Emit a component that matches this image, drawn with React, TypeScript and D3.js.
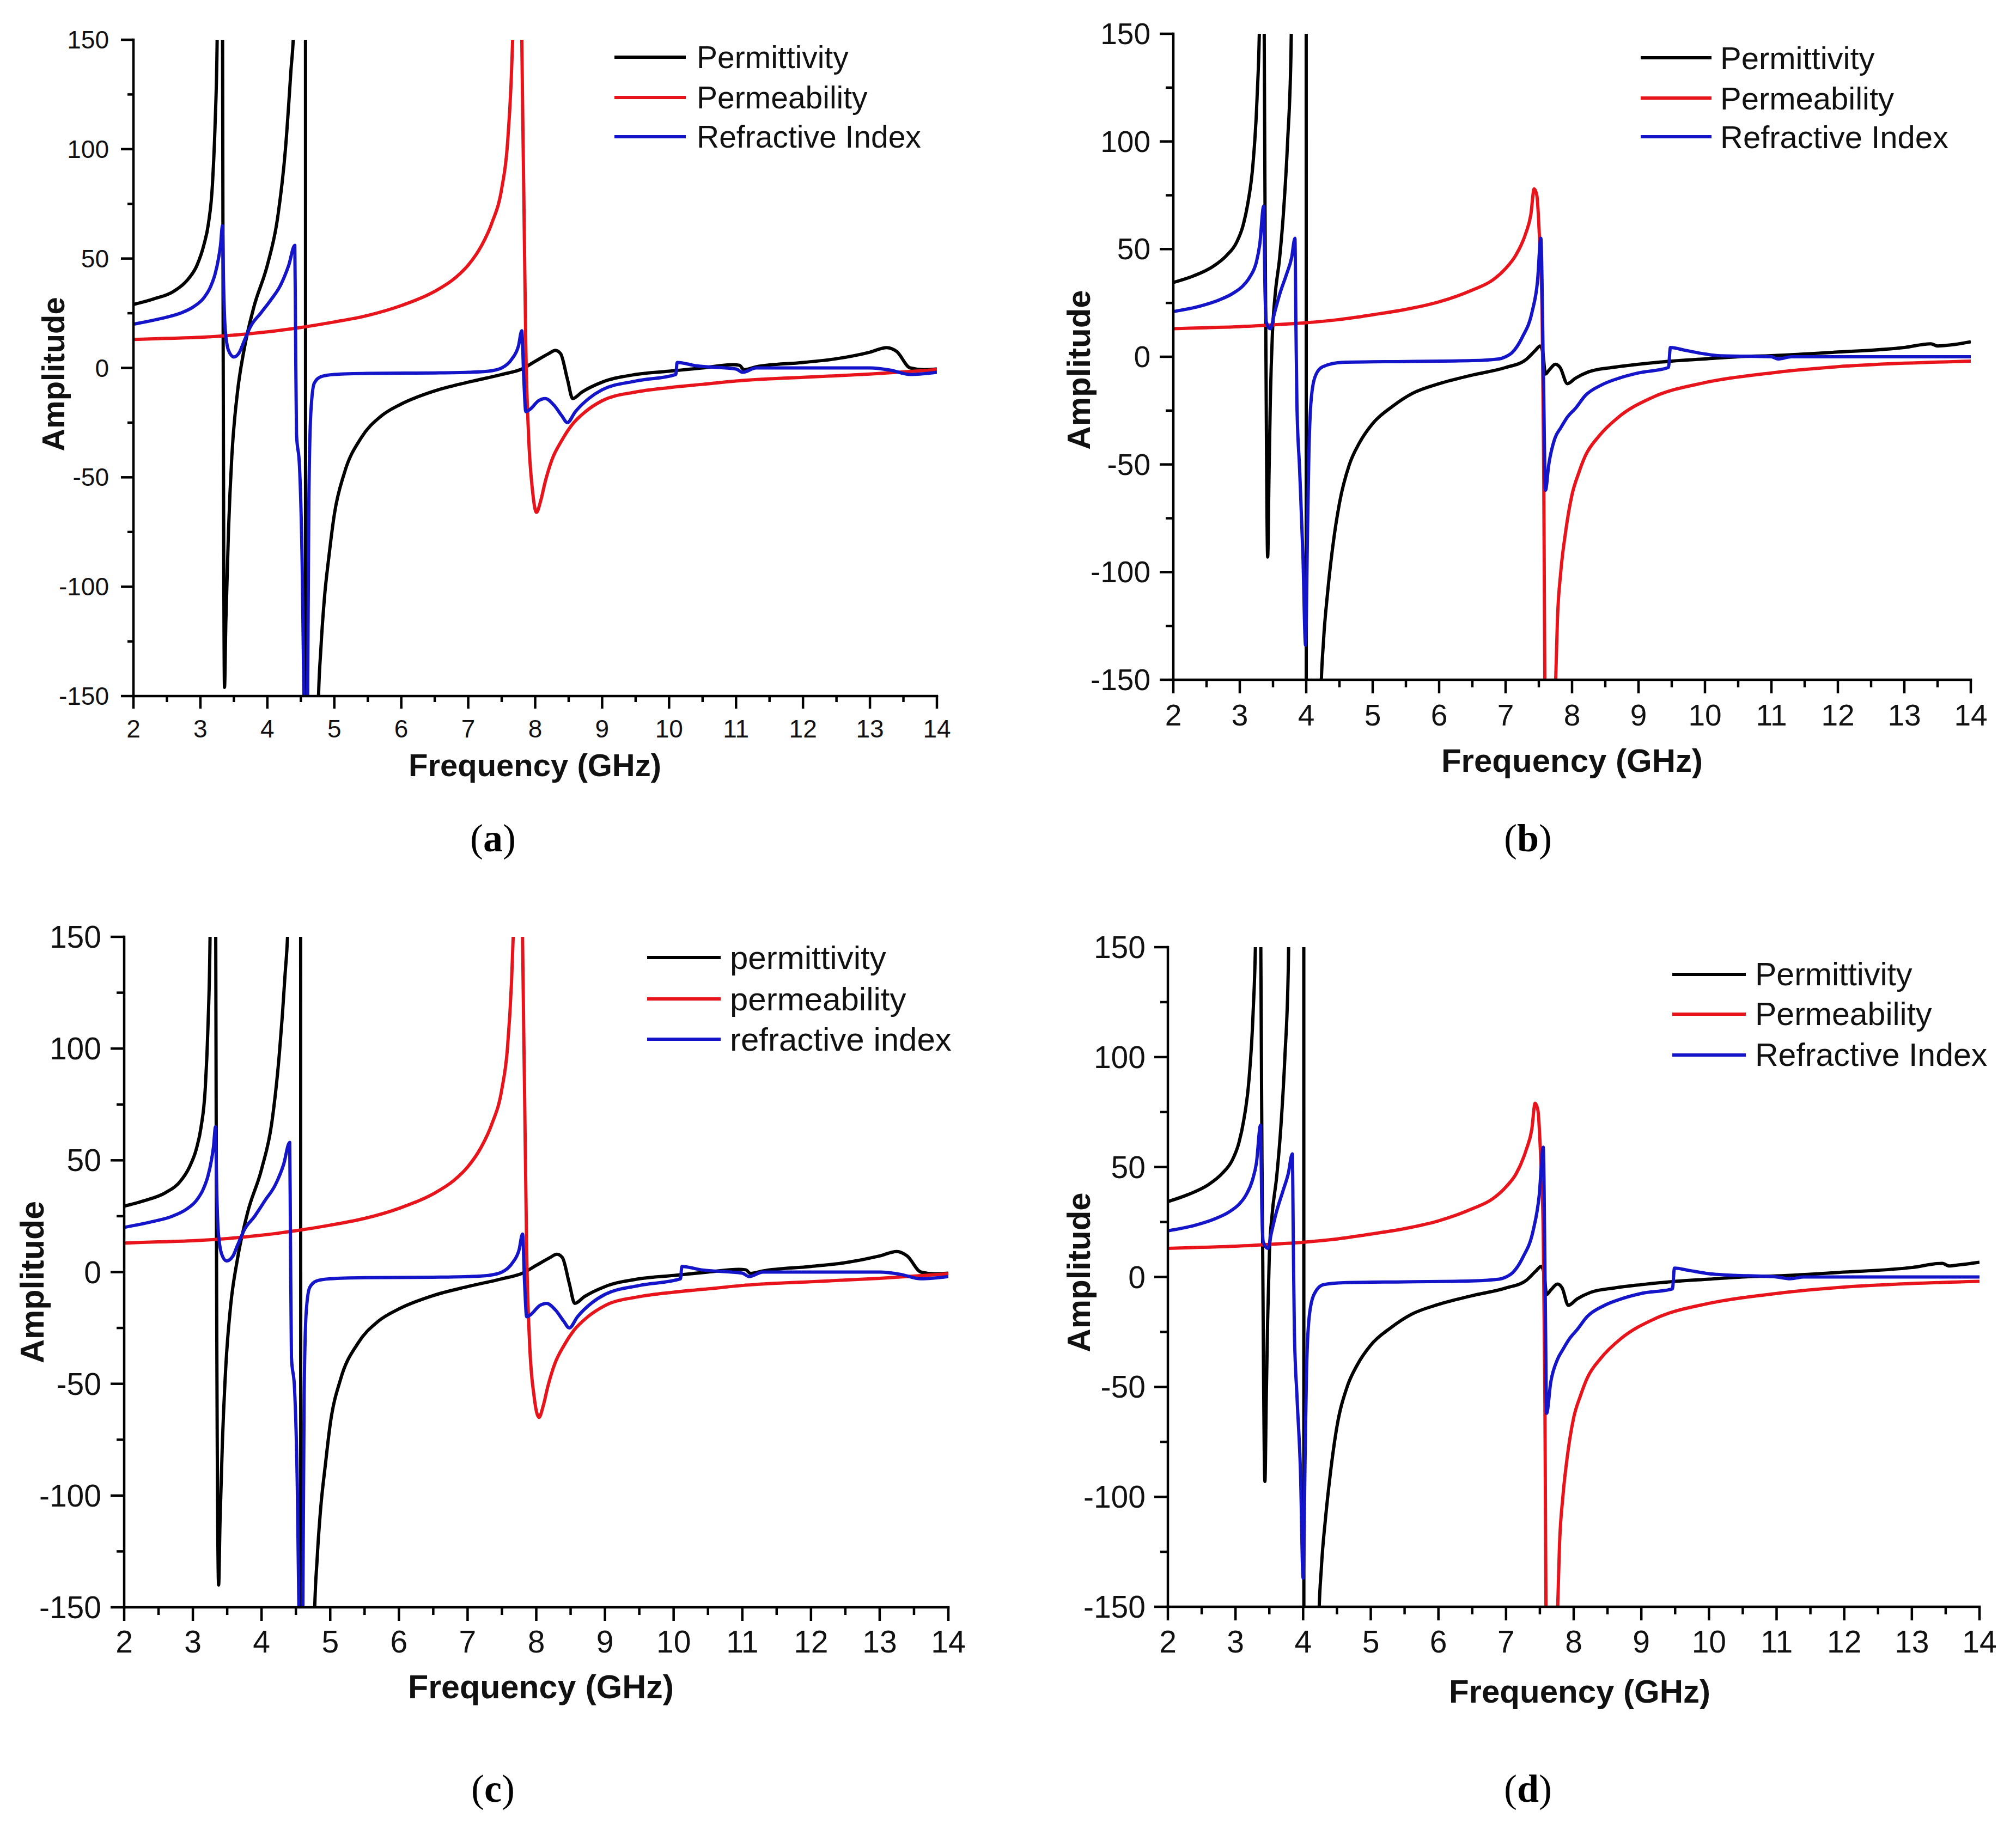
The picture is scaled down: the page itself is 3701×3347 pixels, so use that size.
import React from 'react';
import * as d3 from 'd3';

type Pt = [number, number];

// axis ticks
const xTicks = [2, 3, 4, 5, 6, 7, 8, 9, 10, 11, 12, 13, 14];
const xMinorTicks = [2.5, 3.5, 4.5, 5.5, 6.5, 7.5, 8.5, 9.5, 10.5, 11.5, 12.5, 13.5];
const yTicks = [-150, -100, -50, 0, 50, 100, 150];
const yMinorTicks = [-125, -75, -25, 25, 75, 125];

const seriesNames = ['Permittivity', 'Permeability', 'Refractive Index'];
const seriesNamesLower = ['permittivity', 'permeability', 'refractive index'];
const panelLetters = ['a', 'b', 'c', 'd'];
const seriesColors = ['#000000', '#e8141b', '#1414c8'];

// ---- panel (a) ----
const permittivityA: Pt[] = [
  [2, 29], [2.3, 31.5], [2.6, 35], [2.8, 40], [2.95, 47], [3.05, 56], [3.12, 66], [3.18, 84], [3.22, 112],
  [3.25, 150], [3.28, 300], [3.3, 700], [3.325, 250], [3.34, 10], [3.36, -146], [3.38, -116], [3.42, -74],
  [3.47, -40], [3.55, -12], [3.65, 8], [3.8, 28], [4.0, 47], [4.15, 68], [4.27, 100], [4.35, 135], [4.4, 160],
  [4.5, 420], [4.565, 1500], [4.575, -1500], [4.76, -155], [4.8, -128], [4.85, -106], [4.92, -86], [5.0, -67],
  [5.15, -48], [5.4, -32], [5.7, -22], [6.0, -16.5], [6.5, -10.5], [7.0, -6.5], [7.5, -3], [7.8, -0.5], [8.0, 3],
  [8.2, 6.5], [8.3, 8], [8.38, 6.5], [8.48, -5], [8.56, -14], [8.7, -11], [9.0, -6.5], [9.5, -3], [10, -1.5],
  [10.5, 0], [10.95, 1.5], [11.05, 1.2], [11.12, -0.8], [11.3, 0.5], [12, 2.5], [12.5, 4.2], [13.0, 7.2],
  [13.25, 9.3], [13.4, 7.5], [13.6, 0], [13.8, -0.8], [14, -0.5],
];
const permeabilityA: Pt[] = [
  [2, 13], [2.5, 13.5], [3, 14], [3.5, 15], [4, 16.5], [4.5, 18.5], [5, 21], [5.5, 24], [6, 28.5], [6.5, 35],
  [6.8, 41], [7.0, 47], [7.2, 56], [7.35, 66], [7.5, 82], [7.58, 100], [7.64, 130], [7.67, 155], [7.73, 230],
  [7.78, 220], [7.8, 150], [7.83, 80], [7.86, 10], [7.9, -30], [7.96, -56], [8.02, -66], [8.08, -61], [8.15, -52],
  [8.25, -42], [8.4, -33], [8.55, -26], [8.75, -20], [9.0, -15], [9.5, -11], [10, -9], [10.5, -7.5], [11, -6],
  [11.5, -5], [12, -4.3], [13, -2.8], [14, -0.8],
];
const refractiveA: Pt[] = [
  [2, 20], [2.4, 22.5], [2.7, 25], [2.9, 28], [3.05, 32], [3.15, 37], [3.22, 43], [3.27, 50], [3.3, 56],
  [3.33, 65], [3.345, 40], [3.37, 18], [3.42, 8], [3.5, 5], [3.58, 7], [3.65, 12], [3.75, 19], [3.9, 25],
  [4.05, 31], [4.2, 38], [4.32, 47], [4.41, 56], [4.42, 20], [4.435, -30], [4.48, -45], [4.52, -90], [4.55, -160],
  [4.575, -260], [4.6, -160], [4.62, -60], [4.65, -20], [4.7, -7], [4.8, -4], [5.0, -3], [5.5, -2.5], [6.5, -2.3],
  [7.0, -2], [7.3, -1.5], [7.5, 0], [7.65, 4], [7.75, 10], [7.8, 17], [7.83, -5], [7.86, -20], [7.92, -19],
  [8.05, -15], [8.15, -14], [8.28, -17], [8.4, -22], [8.48, -25], [8.6, -20], [8.8, -14], [9.0, -10], [9.5, -6],
  [10.1, -3], [10.12, 2.5], [10.4, 1], [11.0, -0.5], [11.1, -2], [11.3, 0], [12, 0], [13, 0], [13.3, -1],
  [13.6, -3], [14, -2],
];

// ---- panel (b) ----
const permittivityB: Pt[] = [
  [2, 34.5], [2.3, 37.5], [2.6, 42], [2.8, 47], [2.95, 53], [3.05, 61], [3.12, 71], [3.2, 90], [3.26, 120],
  [3.3, 160], [3.335, 600], [3.36, 200], [3.39, 20], [3.42, -93], [3.44, -55], [3.46, -20], [3.49, 10],
  [3.53, 28], [3.6, 46], [3.66, 68], [3.72, 100], [3.77, 140], [3.8, 200], [3.995, 1500], [4.005, -1500],
  [4.22, -158], [4.26, -132], [4.32, -110], [4.4, -88], [4.5, -68], [4.65, -50], [4.8, -40], [5.0, -31],
  [5.3, -23], [5.6, -17], [6.0, -12.5], [6.5, -8.5], [7.0, -5], [7.3, -1.5], [7.45, 3], [7.52, 5], [7.56, 2],
  [7.6, -8], [7.66, -6], [7.75, -3.5], [7.82, -5], [7.93, -12.5], [8.05, -10], [8.25, -7], [8.6, -5], [9.0, -3.5],
  [9.5, -2], [10, -1], [10.5, 0], [11, 0.5], [12, 2.2], [13, 4.3], [13.4, 6], [13.5, 5], [13.7, 5.5], [14, 7],
];
const permeabilityB: Pt[] = [
  [2, 13], [2.5, 13.5], [3, 14], [3.5, 14.8], [4, 15.8], [4.5, 17.3], [5, 19.5], [5.5, 22], [6, 25.5], [6.5, 31],
  [6.8, 35.5], [7.0, 41], [7.15, 47], [7.3, 57], [7.38, 66], [7.43, 78], [7.47, 75], [7.51, 55], [7.55, 20],
  [7.57, -40], [7.59, -150], [7.6, -400], [7.745, -160], [7.78, -122], [7.83, -100], [7.9, -82], [8.0, -64],
  [8.1, -54], [8.2, -46], [8.4, -37], [8.7, -28], [9.2, -19], [10, -12], [11, -7.5], [12, -4.6], [13, -3], [14, -2],
];
const refractiveB: Pt[] = [
  [2, 21], [2.4, 23.5], [2.7, 26.5], [2.9, 29.5], [3.05, 33], [3.15, 37], [3.25, 44], [3.3, 52], [3.36, 70],
  [3.38, 30], [3.4, 16], [3.46, 13], [3.52, 20], [3.6, 29], [3.7, 38], [3.78, 46], [3.83, 55], [3.845, 15],
  [3.86, -22], [3.9, -52], [3.95, -92], [3.99, -134], [4.02, -80], [4.04, -45], [4.08, -18], [4.15, -8],
  [4.25, -4.6], [4.55, -2.6], [5.5, -2.2], [6.5, -1.8], [6.9, -1], [7.0, 0], [7.1, 2], [7.25, 9], [7.4, 21],
  [7.48, 35], [7.53, 55], [7.57, -10], [7.6, -62], [7.65, -50], [7.74, -38], [7.83, -33], [7.93, -28],
  [8.05, -24], [8.2, -18], [8.45, -13], [8.7, -10], [9.0, -7.5], [9.45, -5], [9.48, 4.3], [9.7, 3], [10.0, 1.3],
  [10.2, 0.5], [11.0, 0], [11.1, -1], [11.3, 0], [12, 0], [14, 0],
];

// ---- panel (c) ----
const permittivityC: Pt[] = [
  [2, 29.5], [2.3, 32], [2.6, 35.5], [2.8, 40], [2.95, 47], [3.05, 55], [3.12, 65], [3.18, 82], [3.22, 110],
  [3.25, 150], [3.28, 300], [3.3, 700], [3.325, 250], [3.345, 0], [3.375, -140], [3.395, -112], [3.43, -76],
  [3.48, -42], [3.55, -15], [3.65, 6], [3.8, 27], [4.0, 46], [4.15, 67], [4.26, 98], [4.34, 132], [4.39, 160],
  [4.49, 420], [4.565, 1500], [4.575, -1500], [4.77, -155], [4.81, -128], [4.86, -106], [4.93, -86], [5.0, -68],
  [5.15, -48], [5.4, -32], [5.7, -22], [6.0, -16.5], [6.5, -10.5], [7.0, -6.5], [7.5, -3], [7.8, -0.5], [8.0, 3],
  [8.2, 6.5], [8.3, 8], [8.38, 6.5], [8.48, -5], [8.56, -14], [8.7, -11], [9.0, -6.5], [9.5, -3], [10, -1.5],
  [10.5, 0], [10.95, 1.2], [11.05, 1.0], [11.12, -0.6], [11.3, 0.5], [12, 2.5], [12.5, 4.2], [13.0, 7.2],
  [13.25, 9.2], [13.4, 7.2], [13.6, 0], [13.8, -0.8], [14, -0.5],
];
const permeabilityC: Pt[] = [
  [2, 13], [2.5, 13.5], [3, 14], [3.5, 15], [4, 16.5], [4.5, 18.5], [5, 21], [5.5, 24], [6, 28.5], [6.5, 35],
  [6.8, 41], [7.0, 47], [7.2, 56], [7.35, 66], [7.5, 82], [7.58, 100], [7.64, 130], [7.67, 155], [7.73, 230],
  [7.78, 220], [7.8, 150], [7.83, 80], [7.86, 10], [7.9, -30], [7.97, -56], [8.04, -65], [8.1, -60], [8.17, -51],
  [8.27, -41], [8.4, -33], [8.55, -26], [8.75, -20], [9.0, -15], [9.5, -11], [10, -9], [10.5, -7.5], [11, -6],
  [11.5, -5], [12, -4.3], [13, -2.8], [14, -0.8],
];
const refractiveC: Pt[] = [
  [2, 20], [2.4, 22.5], [2.7, 25], [2.9, 28], [3.05, 32], [3.15, 37], [3.22, 43], [3.27, 50], [3.3, 56],
  [3.33, 65], [3.345, 40], [3.37, 18], [3.42, 8], [3.49, 5], [3.58, 7], [3.65, 12], [3.75, 19], [3.9, 25],
  [4.05, 32], [4.2, 39], [4.32, 48], [4.41, 58], [4.42, 20], [4.435, -38], [4.48, -52], [4.52, -95], [4.55, -165],
  [4.575, -260], [4.6, -160], [4.62, -55], [4.65, -18], [4.7, -7], [4.8, -4], [5.0, -3], [5.5, -2.5], [6.5, -2.3],
  [7.0, -2], [7.3, -1.5], [7.5, 0], [7.65, 4], [7.75, 10], [7.8, 17], [7.83, -5], [7.86, -20], [7.92, -19],
  [8.05, -15], [8.15, -14], [8.28, -17], [8.4, -22], [8.48, -25], [8.6, -20], [8.8, -14], [9.0, -10], [9.5, -6],
  [10.1, -3], [10.12, 2.5], [10.4, 1], [11.0, -0.5], [11.1, -2], [11.3, 0], [12, 0], [13, 0], [13.3, -1],
  [13.6, -3], [14, -2],
];

// ---- panel (d) ----
const permittivityD: Pt[] = [
  [2, 34.3], [2.3, 37.5], [2.6, 42], [2.8, 47], [2.95, 53], [3.05, 61], [3.12, 71], [3.2, 90], [3.26, 120],
  [3.3, 160], [3.335, 600], [3.365, 200], [3.4, 20], [3.435, -93], [3.455, -55], [3.475, -20], [3.5, 10],
  [3.54, 28], [3.61, 46], [3.67, 68], [3.73, 100], [3.78, 140], [3.81, 200], [4.005, 1500], [4.015, -1500],
  [4.23, -158], [4.27, -132], [4.33, -110], [4.4, -90], [4.5, -68], [4.65, -50], [4.8, -40], [5.0, -31],
  [5.3, -23], [5.6, -17], [6.0, -12.5], [6.5, -8.5], [7.0, -5], [7.3, -1.5], [7.45, 3], [7.52, 4.8], [7.56, 2],
  [7.6, -8], [7.66, -6], [7.76, -3.2], [7.83, -5], [7.92, -12.9], [8.05, -10], [8.25, -7], [8.6, -5], [9.0, -3.5],
  [9.5, -2], [10, -1], [10.5, 0], [11, 0.5], [12, 2.2], [13, 4.3], [13.45, 6.2], [13.55, 5], [13.7, 5.5], [14, 6.7],
];
const permeabilityD: Pt[] = [
  [2, 13], [2.5, 13.5], [3, 14], [3.5, 14.8], [4, 15.8], [4.5, 17.3], [5, 19.5], [5.5, 22], [6, 25.5], [6.5, 31],
  [6.8, 35.5], [7.0, 41], [7.15, 47], [7.3, 58], [7.38, 67], [7.43, 79], [7.47, 76], [7.51, 56], [7.55, 20],
  [7.57, -40], [7.59, -150], [7.6, -400], [7.755, -160], [7.79, -122], [7.84, -100], [7.9, -83], [8.0, -64],
  [8.1, -54], [8.2, -46], [8.4, -37], [8.7, -28], [9.2, -19], [10, -12], [11, -7.5], [12, -4.6], [13, -3], [14, -2],
];
const refractiveD: Pt[] = [
  [2, 21], [2.4, 23.5], [2.7, 26.5], [2.9, 29.5], [3.05, 33], [3.15, 37], [3.25, 44], [3.31, 52], [3.37, 69],
  [3.39, 30], [3.41, 16], [3.48, 13], [3.53, 20], [3.6, 29], [3.7, 39], [3.78, 47], [3.84, 56], [3.855, 15],
  [3.87, -24], [3.91, -55], [3.96, -88], [4.0, -137], [4.03, -80], [4.05, -43], [4.09, -18], [4.16, -8],
  [4.3, -3.5], [4.6, -2.6], [5.5, -2.2], [6.5, -1.8], [6.9, -1], [7.0, 0], [7.1, 2], [7.25, 9], [7.4, 21],
  [7.49, 37], [7.55, 59], [7.58, -10], [7.6, -62], [7.66, -48], [7.76, -37.5], [7.84, -33], [7.94, -28],
  [8.05, -24], [8.2, -18], [8.45, -13], [8.7, -10], [9.0, -7.5], [9.46, -5.4], [9.49, 4], [9.7, 3], [10.0, 1.5],
  [10.2, 1], [11.0, 0], [11.2, -0.8], [11.4, 0], [12, 0], [14, 0],
];

const panelSeries: Pt[][][] = [
  [permittivityA, permeabilityA, refractiveA],
  [permittivityB, permeabilityB, refractiveB],
  [permittivityC, permeabilityC, refractiveC],
  [permittivityD, permeabilityD, refractiveD],
];
const panelNames = [seriesNames, seriesNames, seriesNamesLower, seriesNames];

interface Layout {
  l: number; r: number; t: number; b: number;
  tickFont: number; major: number; minor: number; yGap: number; xBase: number;
  titleFont: number; ampX: number; ampY: number; freqX: number; freqY: number;
  legX0: number; legX1: number; legTx: number; legRows: number[]; legFont: number;
  labelX: number; labelY: number;
}

const layouts: Layout[] = [
  { l: 245, r: 1720, t: 73, b: 1278, tickFont: 46, major: 23, minor: 11, yGap: 45, xBase: 76,
    titleFont: 58, ampX: 97, ampY: 687, freqX: 982, freqY: 1425,
    legX0: 1128, legX1: 1259, legTx: 1279, legRows: [105, 179, 251], legFont: 57, labelX: 905, labelY: 1563 },
  { l: 2154, r: 3618, t: 62, b: 1248, tickFont: 55, major: 25, minor: 14, yGap: 42, xBase: 84,
    titleFont: 60, ampX: 1980, ampY: 679, freqX: 2886, freqY: 1417,
    legX0: 3012, legX1: 3142, legTx: 3158, legRows: [106, 180, 251], legFont: 58, labelX: 2805, labelY: 1563 },
  { l: 228, r: 1741, t: 1720, b: 2951, tickFont: 57, major: 25, minor: 14, yGap: 42, xBase: 83,
    titleFont: 61, ampX: 59, ampY: 2354, freqX: 993, freqY: 3118,
    legX0: 1188, legX1: 1323, legTx: 1340, legRows: [1758, 1834, 1908], legFont: 60, labelX: 905, labelY: 3308 },
  { l: 2144, r: 3634, t: 1739, b: 2950, tickFont: 57, major: 25, minor: 14, yGap: 41, xBase: 84,
    titleFont: 60, ampX: 1980, ampY: 2336, freqX: 2900, freqY: 3126,
    legX0: 3070, legX1: 3205, legTx: 3222, legRows: [1789, 1862, 1937], legFont: 59, labelX: 2805, labelY: 3308 },
];

const sans = '"Liberation Sans", Arial, Helvetica, sans-serif';
const serif = '"Liberation Serif", "Times New Roman", serif';

const Panel: React.FC<{ idx: number }> = ({ idx }) => {
  const L = layouts[idx];
  const series = panelSeries[idx];
  const names = panelNames[idx];
  const x = d3.scaleLinear().domain([2, 14]).range([L.l, L.r]);
  const y = d3.scaleLinear().domain([-150, 150]).range([L.b, L.t]);
  const line = d3
    .line<Pt>()
    .x((d) => x(d[0]))
    .y((d) => y(d[1]))
    .curve(d3.curveMonotoneX);
  const clipId = `clip-${panelLetters[idx]}`;

  return (
    <g>
      <defs>
        <clipPath id={clipId}>
          <rect x={L.l} y={L.t} width={L.r - L.l} height={L.b - L.t} />
        </clipPath>
      </defs>

      {/* curves */}
      <g clipPath={`url(#${clipId})`}>
        {series.map((s, i) => (
          <path key={i} d={line(s) || ''} fill="none" stroke={seriesColors[i]} strokeWidth={6} strokeLinejoin="round" />
        ))}
      </g>

      {/* axes */}
      <g stroke="#000" strokeWidth={4.5} strokeLinecap="square">
        <line x1={L.l} y1={L.t} x2={L.l} y2={L.b} />
        <line x1={L.l} y1={L.b} x2={L.r} y2={L.b} />
        {xTicks.map((t) => (
          <line key={`xt${t}`} x1={x(t)} x2={x(t)} y1={L.b} y2={L.b + L.major} strokeLinecap="butt" />
        ))}
        {xMinorTicks.map((t) => (
          <line key={`xm${t}`} x1={x(t)} x2={x(t)} y1={L.b} y2={L.b + L.minor} strokeLinecap="butt" />
        ))}
        {yTicks.map((t) => (
          <line key={`yt${t}`} x1={L.l - L.major} x2={L.l} y1={y(t)} y2={y(t)} strokeLinecap="butt" />
        ))}
        {yMinorTicks.map((t) => (
          <line key={`ym${t}`} x1={L.l - L.minor} x2={L.l} y1={y(t)} y2={y(t)} strokeLinecap="butt" />
        ))}
      </g>

      {/* tick labels */}
      <g fontFamily={sans} fontSize={L.tickFont} fill="#111">
        {xTicks.map((t) => (
          <text key={`xl${t}`} x={x(t)} y={L.b + L.xBase} textAnchor="middle">
            {t}
          </text>
        ))}
        {yTicks.map((t) => (
          <text key={`yl${t}`} x={L.l - L.yGap} y={y(t)} textAnchor="end" dominantBaseline="central">
            {t}
          </text>
        ))}
      </g>

      {/* axis titles */}
      <text
        x={L.freqX}
        y={L.freqY}
        textAnchor="middle"
        fontFamily={sans}
        fontWeight="bold"
        fontSize={L.titleFont}
        fill="#111"
      >
        Frequency (GHz)
      </text>
      <text
        transform={`translate(${L.ampX},${L.ampY}) rotate(-90)`}
        textAnchor="middle"
        dominantBaseline="central"
        fontFamily={sans}
        fontWeight="bold"
        fontSize={L.titleFont}
        fill="#111"
      >
        Amplitude
      </text>

      {/* legend */}
      {names.map((n, i) => (
        <g key={n}>
          <line x1={L.legX0} x2={L.legX1} y1={L.legRows[i]} y2={L.legRows[i]} stroke={seriesColors[i]} strokeWidth={6} />
          <text x={L.legTx} y={L.legRows[i]} dominantBaseline="central" fontFamily={sans} fontSize={L.legFont} fill="#111">
            {n}
          </text>
        </g>
      ))}

      {/* sub-figure label */}
      <text x={L.labelX} y={L.labelY} textAnchor="middle" fontFamily={serif} fontSize={72} fill="#000">
        (<tspan fontWeight="bold">{panelLetters[idx]}</tspan>)
      </text>
    </g>
  );
};

export default function App() {
  return (
    <svg
      width={3701}
      height={3347}
      viewBox="0 0 3701 3347"
      style={{ position: 'absolute', left: 0, top: 0, display: 'block' }}
    >
      <rect x={0} y={0} width={3701} height={3347} fill="#fff" />
      {layouts.map((_, i) => (
        <Panel key={i} idx={i} />
      ))}
    </svg>
  );
}
